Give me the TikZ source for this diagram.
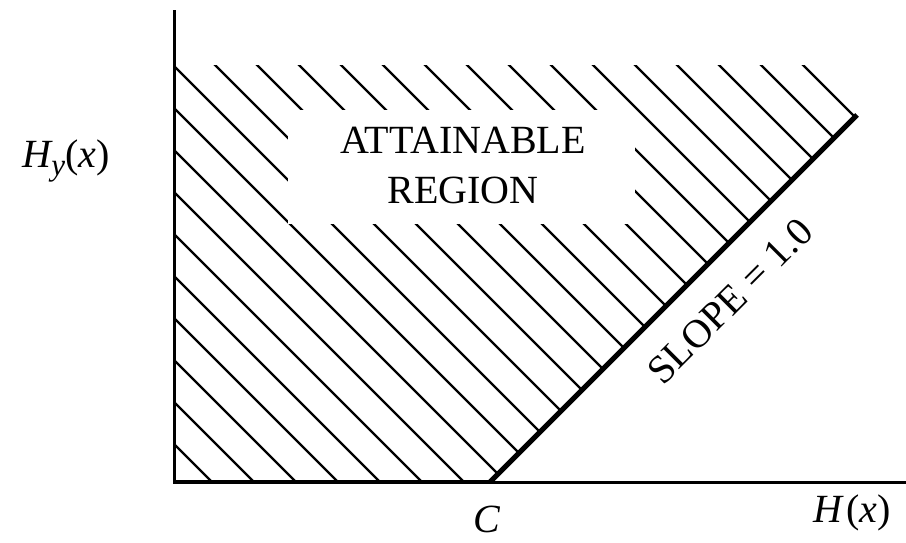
\documentclass[tikz,border=0pt]{standalone}
\usepackage{fontspec}
\setmainfont{Liberation Serif}
\begin{document}
\begin{tikzpicture}[x=1pt,y=-1pt,
  hatch/.style={line width=2.3pt},
  axisline/.style={line width=3pt},
  boundary/.style={line width=5pt},
  lbl/.style={font=\fontsize{40}{50}\selectfont, inner sep=0pt, align=center},
  mathlbl/.style={font=\fontsize{40}{48}\selectfont, inner sep=0pt}]
\useasboundingbox (0,0) rectangle (906,542);
\coordinate (O) at (174,482);
\coordinate (Ytop) at (174,10);
\coordinate (Xend) at (906,482);
\coordinate (Cpt) at (490,482);
\coordinate (D) at (857,115);
% hatching
\begin{scope}
  \clip (174,65) -- (807,65) -- (857,115) -- (Cpt) -- (O) -- cycle;
  \foreach \k in {-11,...,16} {
    \draw[hatch] ({173+42*\k-60},5) -- ++(1000,1000);
  }
\end{scope}
\fill[white] (288,110) rectangle (635,224);
% axes
\draw[axisline] (Ytop) -- (O) -- (Xend);
\draw[line width=4.5pt] (O) -- (Cpt);
\draw[boundary] (Cpt) -- (D);
% labels
\node[lbl] (region) at (463,165) {ATTAINABLE\\REGION};
\node[lbl, rotate=45] (slope) at (730,301) {SLOPE = 1.0};
\node[mathlbl] (C) at (487,519) {\textit{C}};
\node[mathlbl] (Hx) at (852,513) {\textit{H}\kern0.05em(\textit{x})};
\node[mathlbl] (Hy) at (66,161) {\textit{H}\kern-0.05em\raisebox{-0.22em}{\fontsize{31}{31}\selectfont\textit{y}}(\textit{x})};
\end{tikzpicture}
\end{document}
